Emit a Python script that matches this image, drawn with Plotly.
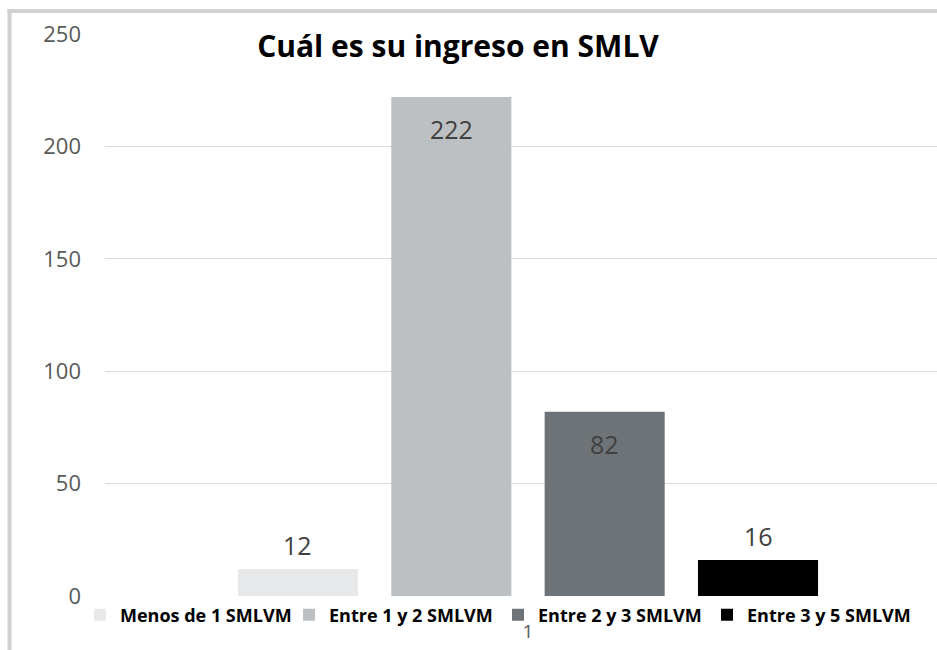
import plotly.graph_objects as go

# ---- data ----
categories = [1]
series_names = ["Menos de 1 SMLVM", "Entre 1 y 2 SMLVM", "Entre 2 y 3 SMLVM", "Entre 3 y 5 SMLVM"]
series_values = [12, 222, 82, 16]
label_inside = [False, True, True, False]
y_tick_values = [0, 50, 100, 150, 200, 250]
title_text = "Cuál es su ingreso en SMLV"

# ---- style ----
colors = ["#e6e8ea", "#bcc0c3", "#6e7377", "#000000"]
W, H = 937, 650
ML, MR, MT, MB = 105, 0, 34, 54
BARGAP = 0.275
BARGROUPGAP = 0.217
PX_PER_UNIT = 846.0
GROUP_CENTER_PX = 528.0
plot_w = W - ML - MR
x_lo = 1 - (GROUP_CENTER_PX - ML) / PX_PER_UNIT
x_hi = x_lo + plot_w / PX_PER_UNIT

fig = go.Figure()
for name, val, col in zip(series_names, series_values, colors):
    fig.add_trace(go.Bar(
        x=categories, y=[val], name=name,
        marker=dict(color=col, line=dict(width=0)),
    ))

# value labels, positioned at the centre of each bar slot
n = len(series_values)
group_w = 1 - BARGAP
slot = group_w / n
annotations = []
for i, (val, inside) in enumerate(zip(series_values, label_inside)):
    xc = categories[0] - group_w / 2 + slot * (i + 0.5)
    annotations.append(dict(
        x=xc, y=val, xref="x", yref="y", text=str(val), showarrow=False,
        yanchor="top" if inside else "bottom",
        yshift=-13 if inside else 5,
        font=dict(family="Open Sans", size=25, color="#404040"),
    ))

# chart frame (left and top edges visible)
plot_h = H - MT - MB
def px_to_paper_x(px):
    return (px - ML) / plot_w
def px_to_paper_y(py):
    return (H - MB - py) / plot_h

frame = dict(color="#cfd1d3", width=4)
shapes = [
    dict(type="line", xref="paper", yref="paper", layer="above",
         x0=px_to_paper_x(9.5), x1=px_to_paper_x(9.5),
         y0=px_to_paper_y(H + 5), y1=px_to_paper_y(9), line=frame),
    dict(type="line", xref="paper", yref="paper", layer="above",
         x0=px_to_paper_x(7.5), x1=px_to_paper_x(W + 5),
         y0=px_to_paper_y(11), y1=px_to_paper_y(11), line=frame),
]

fig.update_layout(
    width=W, height=H,
    margin=dict(l=ML, r=MR, t=MT, b=MB, pad=0),
    paper_bgcolor="white", plot_bgcolor="white",
    barmode="group", bargap=BARGAP, bargroupgap=BARGROUPGAP,
    title=dict(text="<b>" + title_text + "</b>", x=458 / W, xanchor="center",
               y=1 - 46 / H, yanchor="middle",
               font=dict(family="Open Sans", size=30, color="#000000")),
    showlegend=True,
    legend=dict(orientation="h", x=px_to_paper_x(80), xanchor="left",
                y=px_to_paper_y(615), yanchor="middle",
                font=dict(family="Open Sans", size=18, color="#000000", weight="bold"),
                bgcolor="rgba(0,0,0,0)", itemwidth=30,
                entrywidth=164, entrywidthmode="pixels"),
    xaxis=dict(range=[x_lo, x_hi], tickvals=categories, ticktext=[str(c) for c in categories],
               showgrid=False, zeroline=False, showline=False, ticks="",
               tickfont=dict(family="Open Sans", size=19, color="#595959"),
               ticklabelstandoff=22),
    yaxis=dict(range=[0, 250], tickvals=y_tick_values, showgrid=True,
               gridcolor="#d9d9d9", gridwidth=1, zeroline=False, showline=False, ticks="",
               tickfont=dict(family="Open Sans", size=22, color="#595959"),
               ticklabelstandoff=23),
    annotations=annotations,
    shapes=shapes,
)

fig.write_html("out.html", config={"displayModeBar": False},
               post_script="document.body.style.margin='0';document.body.style.overflow='hidden';")
